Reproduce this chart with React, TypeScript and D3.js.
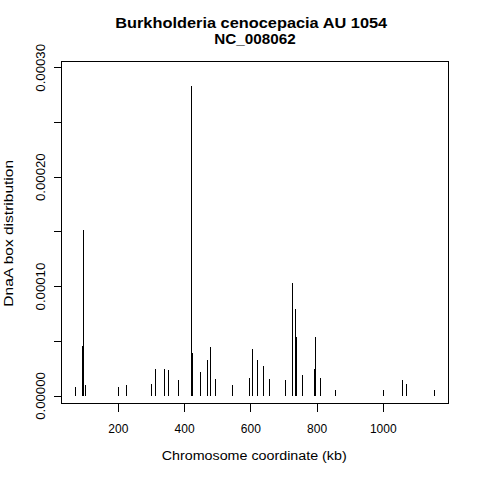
import React from "react";
import * as d3 from "d3";

const titleLines = ["Burkholderia cenocepacia AU 1054", "NC_008062"];
const xLabel = "Chromosome coordinate (kb)";
const yLabel = "DnaA box distribution";

// positions in kb
const positions = [
  70.2, 91.3, 94.3, 100.4, 200, 224.2, 299.6, 311.7, 338.9, 350.9, 381.1,
  420.4, 423.4, 447.5, 468.7, 477.7, 492.8, 544.2, 595.5, 604.5, 619.6,
  637.7, 657, 704.2, 725.3, 734.3, 737.4, 755.5, 791.7, 794.7, 809.8, 855.1,
  1000, 1057.4, 1069.4, 1154,
];
// DnaA box distribution values
const values = [
  8.2e-6, 4.57e-5, 1.516e-4, 1.0e-5, 8.2e-6, 1.0e-5, 1.1e-5, 2.47e-5,
  2.47e-5, 2.37e-5, 1.46e-5, 2.832e-4, 3.93e-5, 2.19e-5, 3.29e-5, 4.48e-5,
  1.55e-5, 1.0e-5, 1.64e-5, 4.29e-5, 3.29e-5, 2.74e-5, 1.55e-5, 1.46e-5,
  1.032e-4, 7.95e-5, 5.39e-5, 1.92e-5, 2.47e-5, 5.39e-5, 1.64e-5, 5.5e-6,
  5.5e-6, 1.46e-5, 1.1e-5, 5.5e-6,
];

const xTicks = [200, 400, 600, 800, 1000];
const yTicks = [0, 0.00005, 0.0001, 0.00015, 0.0002, 0.00025, 0.0003];
const yTickLabels = ["0.00000", "", "0.00010", "", "0.00020", "", "0.00030"];

export default function App() {
  const W = 480, H = 480;
  const L = 61.5, R = 448.5, T = 61.5, B = 403.5;
  const x = d3.scaleLinear().domain([200, 1000]).range([118.3, 383.3]);
  const y = d3.scaleLinear().domain([0, 0.0003]).range([396, 67.8]);
  const font = "'Liberation Sans', Arial, Helvetica, sans-serif";
  const cx = (L + R) / 2;
  const snap = (v: number) => Math.round(v - 0.5) + 0.5;
  const titleX = [251.2, 255];
  const titleLen = [272, 81.4];

  return (
    <svg
      width={W}
      height={H}
      style={{ position: "absolute", left: 0, top: 0, background: "#fff" }}
      fontFamily={font}
    >
      <rect x={0} y={0} width={W} height={H} fill="#fff" />
      {/* bars (type = "h") */}
      <g stroke="#000" strokeWidth={1} shapeRendering="crispEdges">
        {positions.map((p, i) => (
          <line
            key={i}
            x1={snap(x(p))}
            x2={snap(x(p))}
            y1={y(0)}
            y2={y(values[i])}
          />
        ))}
      </g>
      {/* box */}
      <rect
        x={L}
        y={T}
        width={R - L}
        height={B - T}
        fill="none"
        stroke="#000"
        strokeWidth={1}
        shapeRendering="crispEdges"
      />
      {/* x axis */}
      <g stroke="#000" strokeWidth={1} shapeRendering="crispEdges">
        {xTicks.map((t) => (
          <line key={t} x1={snap(x(t))} x2={snap(x(t))} y1={B} y2={B + 8} />
        ))}
      </g>
      {xTicks.map((t) => (
        <text key={t} x={x(t)} y={432.5} textAnchor="middle" fontSize={12}>
          {t}
        </text>
      ))}
      {/* y axis */}
      <g stroke="#000" strokeWidth={1} shapeRendering="crispEdges">
        {yTicks.map((t) => (
          <line key={t} x1={L - 8} x2={L} y1={snap(y(t))} y2={snap(y(t))} />
        ))}
      </g>
      {yTicks.map((t, i) =>
        yTickLabels[i] ? (
          <text
            key={t}
            transform={`translate(45,${y(t)}) rotate(-90)`}
            textAnchor="middle"
            fontSize={12}
            textLength={47.7}
            lengthAdjust="spacingAndGlyphs"
          >
            {yTickLabels[i]}
          </text>
        ) : null
      )}
      {/* axis titles */}
      <text
        x={254.2}
        y={460}
        textAnchor="middle"
        fontSize={12}
        textLength={185}
        lengthAdjust="spacingAndGlyphs"
      >
        {xLabel}
      </text>
      <text
        transform={`translate(13.3,233.3) rotate(-90)`}
        textAnchor="middle"
        fontSize={12}
        textLength={146.7}
        lengthAdjust="spacingAndGlyphs"
      >
        {yLabel}
      </text>
      {/* title */}
      {titleLines.map((s, i) => (
        <text
          key={i}
          x={titleX[i]}
          y={27.5 + i * 16.6}
          textAnchor="middle"
          fontSize={14.4}
          fontWeight="bold"
          textLength={titleLen[i]}
          lengthAdjust="spacingAndGlyphs"
        >
          {s}
        </text>
      ))}
    </svg>
  );
}
